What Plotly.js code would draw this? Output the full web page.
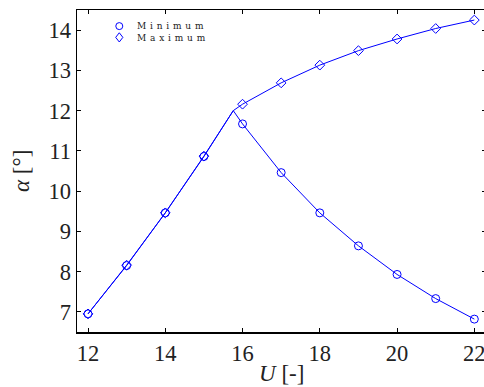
<!DOCTYPE html>
<html>
<head>
<meta charset="utf-8">
<script src="https://cdn.plot.ly/plotly-3.0.1.min.js"></script>
<style>
  html, body { margin: 0; padding: 0; overflow: hidden; background: #ffffff; }
</style>
</head>
<body>
<div id="chart"></div>
<script>
// Flow parameter U and the resulting angle alpha (degrees)
const U = [12, 13, 14, 15, 16, 17, 18, 19, 20, 21, 22];
const alphaMin = [6.95, 8.15, 9.46, 10.86, 11.67, 10.46, 9.46, 8.64, 7.93, 7.33, 6.82];
const alphaMax = [6.95, 8.16, 9.46, 10.87, 12.16, 12.69, 13.13, 13.49, 13.78, 14.04, 14.25];

// Branch point where the minimum and maximum curves separate
const Ubranch = 15.76;
const alphaBranch = 12.0;

const seriesNames = ["Minimum", "Maximum"];
const xTicks = [12, 14, 16, 18, 20, 22];
const yTicks = [7, 8, 9, 10, 11, 12, 13, 14];
const xTitle = "<i>U</i> [-]";
const yTitle = "<i>α</i> [°]";

const blue = "#0000ff";
const serif = "Liberation Serif";
const textColor = "#222222";

// Curves: shared rising part up to the branch point, then each branch
function withBranch(vals) {
  const xs = [], ys = [];
  U.forEach((u, i) => {
    if (u < Ubranch) { xs.push(u); ys.push(vals[i]); }
  });
  xs.push(Ubranch); ys.push(alphaBranch);
  U.forEach((u, i) => {
    if (u > Ubranch) { xs.push(u); ys.push(vals[i]); }
  });
  return { xs, ys };
}

const minLine = withBranch(alphaMin);
const maxLine = withBranch(alphaMax);

const traces = [
  { x: minLine.xs, y: minLine.ys, mode: "lines", line: { color: blue, width: 1 }, showlegend: false, hoverinfo: "skip" },
  { x: maxLine.xs, y: maxLine.ys, mode: "lines", line: { color: blue, width: 1 }, showlegend: false, hoverinfo: "skip" },
  { x: U, y: alphaMin, name: seriesNames[0], mode: "markers", showlegend: false,
    marker: { symbol: "circle-open", size: 8, color: blue, line: { color: blue, width: 1 } } },
  { x: U, y: alphaMax, name: seriesNames[1], mode: "markers", showlegend: false,
    marker: { symbol: "diamond-open", size: 7.5, color: blue, line: { color: blue, width: 1 } } }
];

// Compact legend in the upper-left corner
const legX = 0.1034, legTextX = 0.1418;
const legY = [0.950, 0.915];
const shapes = [
  { type: "circle", xref: "paper", yref: "paper", xsizemode: "pixel", ysizemode: "pixel",
    xanchor: legX, yanchor: legY[0], x0: -3.5, x1: 3.5, y0: -3.5, y1: 3.5,
    line: { color: blue, width: 1 } },
  { type: "path", xref: "paper", yref: "paper", xsizemode: "pixel", ysizemode: "pixel",
    xanchor: legX, yanchor: legY[1], path: "M0,4.6 L3.6,0 L0,-4.6 L-3.6,0 Z",
    line: { color: blue, width: 1 } }
];

const annotations = [
  { // legend labels
    xref: "paper", yref: "paper", x: legTextX, y: (legY[0] + legY[1]) / 2,
    xanchor: "left", yanchor: "middle", showarrow: false, align: "left",
    text: seriesNames.map(n => '<span style="letter-spacing:3.8px">' + n + "</span>").join("<br>"),
    font: { family: "DejaVu Serif", size: 9, color: textColor }
  },
  { // x-axis title
    xref: "paper", yref: "paper", x: 0.5, y: -0.13, xanchor: "center", yanchor: "middle",
    showarrow: false, text: xTitle, font: { family: serif, size: 23, color: textColor }
  },
  { // y-axis title
    xref: "paper", yref: "paper", x: -0.137, y: 0.5, xanchor: "center", yanchor: "middle",
    textangle: -90, showarrow: false, text: yTitle, font: { family: serif, size: 23, color: textColor }
  }
];

const axisCommon = {
  showgrid: false, zeroline: false,
  showline: true, linecolor: "#000000", linewidth: 1.5, mirror: "ticks",
  ticks: "inside", ticklen: 4, tickwidth: 1, tickcolor: "#000000",
  tickfont: { family: serif, size: 22.5, color: textColor }
};

const layout = {
  width: 488, height: 387,
  margin: { l: 77, r: 2, t: 10, b: 55 },
  paper_bgcolor: "#ffffff", plot_bgcolor: "#ffffff",
  showlegend: false,
  xaxis: Object.assign({}, axisCommon, {
    range: [11.715, 22.302], tickvals: xTicks, ticktext: xTicks.map(String)
  }),
  yaxis: Object.assign({}, axisCommon, {
    range: [6.5, 14.5], tickvals: yTicks, ticktext: yTicks.map(String)
  }),
  shapes: shapes,
  annotations: annotations
};

Plotly.newPlot("chart", traces, layout, { displayModeBar: false, staticPlot: true });
</script>
</body>
</html>
